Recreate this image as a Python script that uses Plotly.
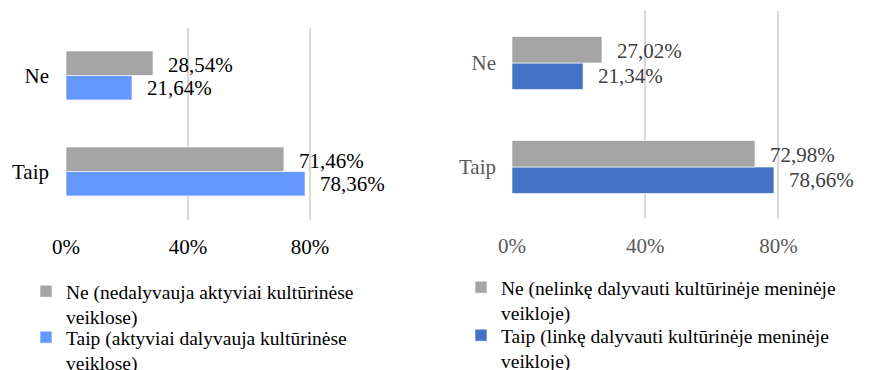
import plotly.graph_objects as go

# Categories (bottom to top on the horizontal bar axis)
categories = ["Taip", "Ne"]

# Left panel: active participation in cultural activities
left_ne = [71.46, 28.54]
left_taip = [78.36, 21.64]
left_names = ["Ne (nedalyvauja aktyviai kultūrinėse<br>veiklose)",
              "Taip (aktyviai dalyvauja kultūrinėse<br>veiklose)"]

# Right panel: inclination to take part in cultural/artistic activities
right_ne = [72.98, 27.02]
right_taip = [78.66, 21.34]
right_names = ["Ne (nelinkę dalyvauti kultūrinėje meninėje<br>veikloje)",
               "Taip (linkę dalyvauti kultūrinėje meninėje<br>veikloje)"]

tick_vals = [0, 40, 80]
tick_text = ["0%", "40%", "80%"]

GRAY = "#A5A5A5"
LEFT_BLUE = "#6699FF"
RIGHT_BLUE = "#4472C4"
FONT = "Liberation Serif"
FS = 21
LEGEND_FS = 19.5


def fmt(v):
    return f"{v:.2f}".replace(".", ",") + "%"


fig = go.Figure()

edge = dict(color="rgba(255,255,255,0.6)", width=1)

# Blue trace first so it sits below the gray one inside each group
fig.add_trace(go.Bar(y=categories, x=left_taip, orientation="h", name=left_names[1],
                     marker=dict(color=LEFT_BLUE, line=edge),
                     xaxis="x", yaxis="y", legend="legend2"))
fig.add_trace(go.Bar(y=categories, x=left_ne, orientation="h", name=left_names[0],
                     marker=dict(color=GRAY, line=edge),
                     xaxis="x", yaxis="y", legend="legend"))
fig.add_trace(go.Bar(y=categories, x=right_taip, orientation="h", name=right_names[1],
                     marker=dict(color=RIGHT_BLUE, line=edge),
                     xaxis="x2", yaxis="y2", legend="legend4"))
fig.add_trace(go.Bar(y=categories, x=right_ne, orientation="h", name=right_names[0],
                     marker=dict(color=GRAY, line=edge),
                     xaxis="x2", yaxis="y2", legend="legend3"))

# Value labels placed just past the end of each bar
annotations = []
for vals, shift, xa, ya, col in [
    (left_ne, 11, "x", "y", "black"),
    (left_taip, -12, "x", "y", "black"),
    (right_ne, 12, "x2", "y2", "#404040"),
    (right_taip, -13, "x2", "y2", "#404040"),
]:
    for cat, v in zip(categories, vals):
        annotations.append(dict(
            x=v, y=cat, xref=xa, yref=ya, text=fmt(v), showarrow=False,
            xanchor="left", yanchor="middle", xshift=13, yshift=shift,
            font=dict(family=FONT, size=FS, color=col)))

axis_common = dict(showline=False, zeroline=False, showgrid=True,
                   gridcolor="#D9D9D9", gridwidth=1.5, automargin=False,
                   tickvals=tick_vals, ticktext=tick_text, range=[0, 100],
                   ticks="", ticklabelstandoff=12, fixedrange=True)
yaxis_common = dict(showgrid=False, showline=False, zeroline=False, ticks="",
                    automargin=False, fixedrange=True)


def legend_box(left_px, top_px):
    return dict(x=left_px / 870, y=1 - top_px / 370, xanchor="left", yanchor="top",
                orientation="v", valign="top", bgcolor="rgba(0,0,0,0)",
                font=dict(family=FONT, size=LEGEND_FS, color="black"))


fig.update_layout(
    width=870, height=370,
    margin=dict(l=0, r=0, t=0, b=0, autoexpand=False),
    paper_bgcolor="white", plot_bgcolor="white",
    showlegend=True,
    barmode="group", bargap=0.49, bargroupgap=0,
    xaxis=dict(domain=[66 / 870, 371 / 870], anchor="y",
               tickfont=dict(family=FONT, size=FS, color="black"), **axis_common),
    yaxis=dict(domain=[1 - 219.5 / 370, 1 - 27.5 / 370], anchor="x",
               ticklabelstandoff=16,
               tickfont=dict(family=FONT, size=FS, color="black"), **yaxis_common),
    xaxis2=dict(domain=[512 / 870, 845 / 870], anchor="y2",
                tickfont=dict(family=FONT, size=FS, color="#595959"), **axis_common),
    yaxis2=dict(domain=[1 - 219 / 370, 1 - 11 / 370], anchor="x2",
                ticklabelstandoff=15,
                tickfont=dict(family=FONT, size=FS, color="#595959"), **yaxis_common),
    legend=legend_box(26, 272),
    legend2=legend_box(26, 318),
    legend3=legend_box(461, 268),
    legend4=legend_box(461, 316),
    annotations=annotations,
)

fig.write_html("out.html")
